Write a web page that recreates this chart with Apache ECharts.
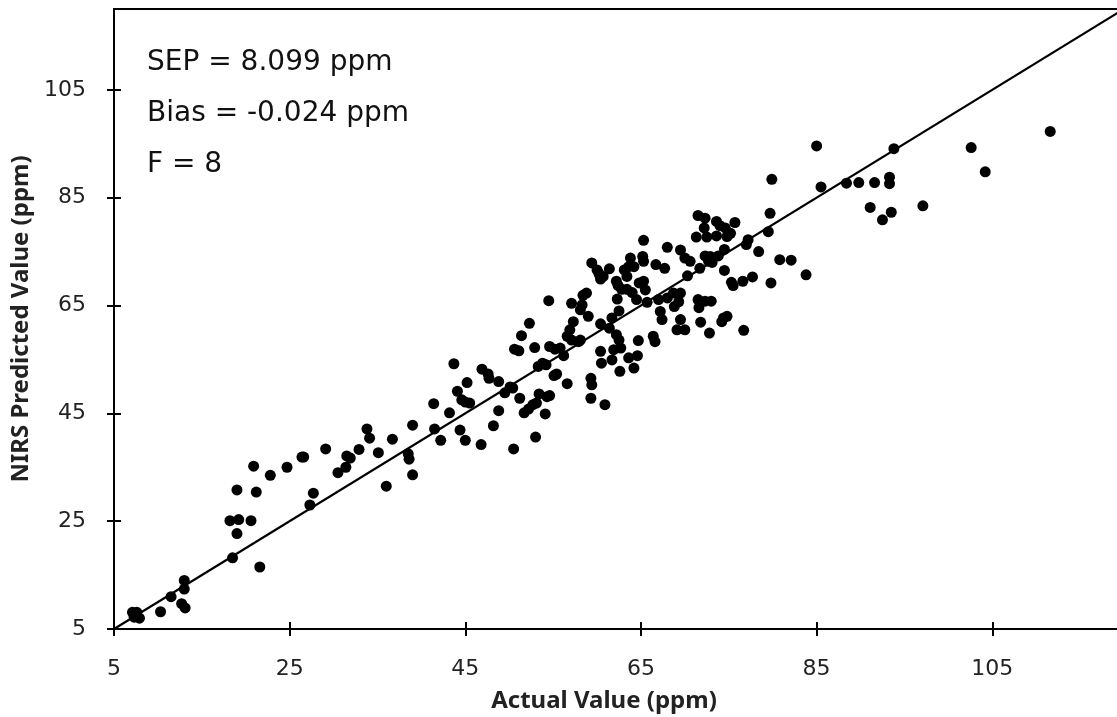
<!DOCTYPE html>
<html>
<head>
<meta charset="utf-8">
<script src="https://cdn.jsdelivr.net/npm/echarts@6/dist/echarts.min.js"></script>
<style>
  html, body { margin: 0; padding: 0; background: #fff; }
  #chart { width: 1117px; height: 717px; }
</style>
</head>
<body>
<div id="chart"></div>
<script>
// actual vs predicted (ppm)
var actual = [
  7.1, 7.6, 7.3, 7.9, 7.5, 10.3, 11.5, 12.7, 13.1, 13.0, 13.0,
  18.5, 18.2, 19.2, 20.6, 19.0, 19.0, 21.2, 20.9, 21.6, 22.8, 24.7, 26.4, 26.6, 27.3, 27.7,
  29.1, 30.5, 31.4, 31.5, 31.9, 32.9, 33.8, 34.1, 35.1, 36.0, 36.7, 38.5, 38.6, 39.0, 39.0,
  41.4, 41.5, 42.2, 43.2, 43.7, 44.1, 44.6, 45.0, 45.5, 44.4, 45.0, 45.2, 46.8, 46.9, 47.6, 47.7,
  48.2, 48.8, 48.8, 49.5, 50.1, 50.4, 50.5, 50.6, 51.1, 51.2, 51.4, 51.7, 52.2, 52.7, 53.1,
  52.3, 52.9, 53.0, 53.3, 53.8, 54.2, 53.4, 54.3, 54.6, 54.1, 54.6, 54.5, 55.1, 55.4, 55.2,
  55.8, 56.2, 56.6, 56.6, 56.9, 57.1, 57.3, 57.1, 57.9, 58.1, 58.1, 58.4, 58.8, 58.3, 59.0,
  59.3, 59.4, 59.3, 59.4, 60.0, 60.3, 60.4, 60.2, 60.7, 61.4, 60.4, 60.4, 60.5, 60.9, 61.4,
  61.7, 61.7, 61.9, 62.2, 62.4, 62.3, 62.8, 62.2, 62.5, 62.7, 62.5, 62.6, 63.1, 63.4, 63.6,
  63.8, 64.2, 63.4, 64.0, 64.5, 63.6, 64.2, 64.6, 64.7, 64.8, 65.3, 65.5, 65.2, 65.3, 65.7,
  66.4, 66.6, 66.7, 67.7, 67.0, 67.2, 67.4, 68.0, 68.7, 69.5, 69.3, 68.8, 69.5, 69.1, 70.0,
  70.0, 70.6,
  71.5, 72.3, 72.2, 71.3, 72.5, 73.6, 74.0, 74.6, 75.2, 75.7, 73.6, 74.8, 79.7, 79.5, 77.2,
  77.0, 78.4, 74.5, 73.8, 65.3, 68.0, 69.5, 72.3, 72.9, 72.7, 73.1, 71.7, 70.3, 74.5, 75.3,
  75.5, 76.6, 77.7, 80.8, 82.1, 79.8, 83.8, 71.5, 72.3, 73.0, 71.6, 71.8, 72.8, 74.4, 74.8,
  74.2, 76.7,
  79.9, 85.0, 93.8, 102.6, 111.6, 104.2, 85.5, 88.4, 89.8, 91.6, 93.3, 93.3, 91.1, 93.5, 92.5, 97.1
];
var predicted = [
  8.1, 8.1, 7.2, 7.0, 7.6, 8.2, 11.0, 9.7, 8.9, 14.0, 12.4,
  18.2, 25.1, 25.3, 25.1, 22.7, 30.8, 30.4, 35.2, 16.5, 33.5, 35.0, 36.9, 36.9, 28.0, 30.2,
  38.4, 34.0, 35.0, 37.1, 36.7, 38.3, 42.1, 40.4, 37.7, 31.5, 40.2, 37.5, 36.5, 33.6, 42.8,
  46.8, 42.1, 40.0, 45.1, 54.2, 49.1, 47.5, 47.1, 46.9, 41.9, 40.0, 50.7, 39.2, 53.2, 52.3, 51.5,
  42.7, 50.9, 45.5, 48.8, 49.9, 49.7, 38.4, 56.9, 56.6, 47.8, 59.4, 45.1, 45.8, 46.6, 46.9,
  61.7, 57.2, 40.6, 53.7, 54.3, 54.0, 48.6, 48.1, 48.3, 44.9, 57.4, 65.9, 52.0, 52.3, 56.9,
  57.1, 55.7, 50.5, 59.3, 60.5, 58.6, 62.0, 65.4, 58.3, 58.6, 64.2, 66.9, 67.3, 65.1, 63.0,
  51.5, 50.3, 47.8, 72.9, 71.6, 70.7, 69.9, 71.0, 70.4, 71.8, 61.6, 56.5, 54.3, 46.6, 60.8,
  62.7, 54.9, 56.8, 69.5, 68.7, 66.2, 68.0, 59.6, 58.6, 57.1, 64.0, 52.8, 71.6, 70.4, 72.2,
  73.8, 72.2, 68.0, 67.4, 66.1, 55.3, 53.4, 55.7, 58.5, 69.2, 69.5, 67.9, 74.1, 73.2, 65.6,
  59.3, 58.3, 72.6, 71.9, 66.1, 63.9, 62.4, 66.4, 67.3, 67.3, 65.7, 64.8, 62.4, 60.5, 60.5,
  73.8, 73.2,
  81.7, 81.2, 79.4, 77.7, 77.7, 80.6, 79.8, 79.4, 78.4, 80.4, 77.9, 77.8, 82.1, 78.7, 77.2,
  76.3, 75.0, 75.4, 74.2, 77.1, 75.8, 75.3, 74.2, 74.1, 73.2, 73.0, 71.9, 70.5, 71.5, 69.3,
  68.7, 69.5, 70.3, 73.5, 73.4, 69.2, 70.7, 66.1, 65.8, 65.8, 64.6, 61.9, 59.9, 62.7, 63.0,
  62.0, 60.4,
  88.4, 94.6, 94.1, 94.3, 97.3, 89.8, 87.0, 87.7, 87.8, 87.8, 88.8, 87.6, 83.2, 82.3, 80.9, 83.5
];
var tickValues = [5, 25, 45, 65, 85, 105];
var oneToOne = [[5, 5], [120, 120]];
var statLines = ['SEP = 8.099 ppm', 'Bias = -0.024 ppm', 'F = 8'];

var points = actual.map(function (a, i) { return [a, predicted[i]]; });

var chart = echarts.init(document.getElementById('chart'), null, { renderer: 'canvas' });

var font = '"DejaVu Sans", sans-serif';
var titleFont = '"Noto Sans", sans-serif';
var labelStyle = { fontSize: 22, color: '#222', fontFamily: font };

// ticks in the reference cross the axis, so each axis is drawn twice:
// once with outside ticks + labels, once with inside ticks only
function valueAxis (pos, withLabels, inside, margin) {
  return {
    type: 'value',
    position: pos,
    min: 5,
    max: 120,
    interval: 20,
    splitLine: { show: false },
    axisLine: { show: withLabels, lineStyle: { color: '#000', width: 2 } },
    axisTick: {
      show: true,
      inside: inside,
      length: 7,
      customValues: tickValues,
      lineStyle: { color: '#000', width: 2 }
    },
    axisLabel: withLabels
      ? Object.assign({ customValues: tickValues, margin: margin }, labelStyle)
      : { show: false }
  };
}

var xMain = valueAxis('bottom', true, false, 29);
xMain.name = 'Actual Value (ppm)';
xMain.nameLocation = 'middle';
xMain.nameGap = 60;
xMain.nameTextStyle = { fontSize: 24, fontWeight: 'bold', color: '#222', fontFamily: titleFont, padding: [0, 30, 0, 0] };

var yMain = valueAxis('left', true, false, 28);
yMain.name = 'NIRS Predicted Value (ppm)';
yMain.nameLocation = 'middle';
yMain.nameGap = 78;
yMain.nameTextStyle = { fontSize: 24, fontWeight: 'bold', color: '#222', fontFamily: titleFont };

chart.setOption({
  animation: false,
  backgroundColor: '#fff',
  grid: {
    left: 114, top: 9, width: 1010, height: 620,
    show: true, borderColor: '#000', borderWidth: 2,
    outerBoundsMode: 'none'
  },
  xAxis: [xMain, valueAxis('bottom', false, true, 0)],
  yAxis: [yMain, valueAxis('left', false, true, 0)],
  graphic: statLines.map(function (t, i) {
    return {
      type: 'text',
      x: 147,
      y: 63 + i * 51,
      style: { text: t, fontSize: 28, fill: '#111', fontFamily: font, verticalAlign: 'middle' }
    };
  }),
  series: [
    {
      type: 'line',
      data: oneToOne,
      symbol: 'none',
      lineStyle: { color: '#000', width: 2.2 },
      z: 1
    },
    {
      type: 'scatter',
      data: points,
      symbol: 'circle',
      symbolSize: 11,
      itemStyle: { color: '#000', opacity: 1 },
      z: 2
    }
  ]
});
</script>
</body>
</html>
